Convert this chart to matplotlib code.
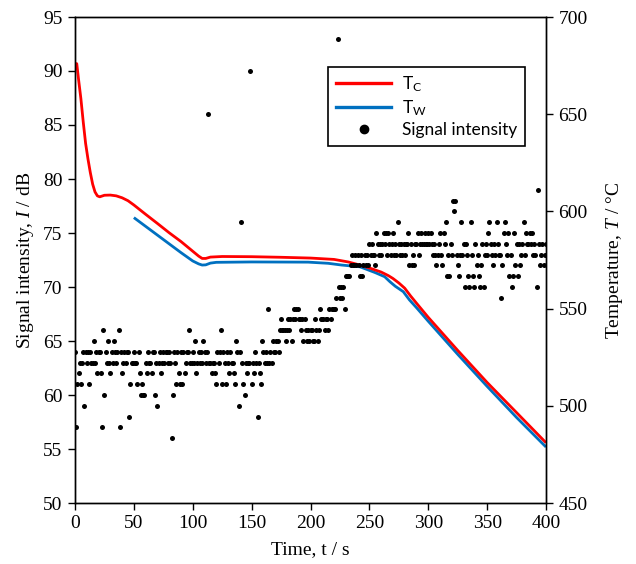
import numpy as np
import matplotlib
matplotlib.use("Agg")
import matplotlib.pyplot as plt
from matplotlib.lines import Line2D

plt.rcParams['font.family'] = 'Liberation Serif'
plt.rcParams['mathtext.fontset'] = 'custom'
plt.rcParams['mathtext.rm'] = 'Liberation Serif'
plt.rcParams['mathtext.it'] = 'Liberation Serif:italic'
plt.rcParams['mathtext.sf'] = 'Lato'

# --------------------------------------Data--------------------------------------
# Acoustic signal intensity (dB), one reading per second from 0 to 400 s
signal_db = [
    # 0-82 s
    64, 57, 61, 62, 63, 61, 63, 64, 59, 64,
    63, 64, 61, 64, 63, 63, 65, 63, 64, 62,
    64, 64, 62, 57, 66, 60, 64, 63, 65, 63,
    62, 64, 63, 65, 64, 63, 64, 66, 57, 64,
    62, 63, 64, 63, 64, 64, 58, 61, 63, 63,
    64, 63, 63, 61, 64, 62, 60, 61, 60, 60,
    63, 62, 64, 63, 63, 62, 64, 64, 60, 63,
    59, 63, 64, 62, 63, 64, 63, 64, 64, 63,
    64, 63, 56,
    # 83-164 s
    60, 64, 63, 61, 64, 62, 61, 64, 61, 64,
    62, 63, 64, 64, 66, 63, 63, 64, 63, 65,
    62, 63, 64, 63, 64, 63, 65, 64, 63, 64,
    86, 63, 63, 62, 63, 63, 62, 61, 64, 63,
    64, 66, 61, 64, 63, 61, 64, 63, 62, 64,
    63, 63, 62, 61, 65, 64, 59, 64, 76, 63,
    61, 60, 63, 62, 63, 63, 90, 61, 63, 62,
    64, 63, 58, 63, 62, 61, 65, 64, 63, 64,
    63, 68,
    # 165-235 s
    63, 64, 63, 65, 64, 64, 65, 65, 64, 66,
    67, 66, 66, 66, 65, 66, 67, 66, 67, 65,
    67, 68, 67, 68, 68, 67, 67, 66, 67, 65,
    67, 66, 65, 66, 65, 66, 66, 65, 65, 67,
    66, 65, 66, 68, 67, 67, 67, 66, 67, 67,
    66, 68, 67, 68, 68, 68, 68, 69, 93, 70,
    69, 70, 69, 70, 68, 71, 71, 71, 71, 72,
    73,
    # 236-323 s
    72, 72, 73, 72, 73, 72, 71, 73, 71, 72,
    73, 72, 73, 72, 74, 73, 74, 73, 73, 72,
    75, 74, 73, 74, 73, 74, 75, 74, 75, 73,
    75, 74, 73, 74, 75, 73, 74, 73, 76, 74,
    73, 74, 73, 74, 73, 74, 74, 75, 72, 74,
    72, 73, 72, 74, 74, 75, 73, 74, 75, 74,
    74, 75, 74, 74, 75, 74, 75, 74, 73, 74,
    73, 72, 73, 74, 75, 73, 72, 75, 74, 76,
    71, 73, 71, 74, 73, 78, 77, 78,
    # 324-400 s
    73, 72, 71, 73, 76, 73, 74, 70, 74, 73,
    71, 70, 76, 73, 71, 70, 74, 72, 73, 71,
    70, 72, 74, 70, 73, 74, 73, 75, 76, 74,
    73, 72, 74, 73, 76, 74, 73, 73, 69, 72,
    75, 76, 74, 73, 75, 71, 73, 70, 71, 75,
    72, 74, 71, 74, 72, 73, 74, 76, 73, 75,
    74, 74, 75, 74, 75, 73, 74, 73, 70, 79,
    74, 72, 73, 74, 72, 73, 74,
]
signal_t = np.arange(len(signal_db))

# Centre temperature T_C (degC)
tc_t = [0, 1.5, 3, 5, 7, 9, 11, 13, 15, 17, 19, 21, 25, 30, 35, 40, 45, 50,
        60, 70, 80, 90, 100, 105, 108, 111, 115, 125, 150, 175, 200, 220, 232,
        242, 252, 260, 266, 270, 275, 280, 285, 290, 300, 325, 350, 375, 400]
tc_T = [676, 676, 668, 658, 646, 635, 627, 620, 614, 610, 608, 607.5, 608.3,
        608.4, 608, 607, 605.5, 603.3, 598.5, 593.8, 589, 584.5, 579.5, 577,
        575.8, 575.8, 576.5, 576.8, 576.7, 576.4, 576, 575.3, 574, 572.4, 570.5,
        568.8, 567, 565.5, 563.2, 560.5, 556.5, 552.8, 545.5, 528.5, 512,
        496.5, 481]

# Wall temperature T_W (degC)
tw_t = [50, 60, 70, 80, 90, 100, 105, 108, 111, 115, 120, 150, 198, 215, 226.5,
        242, 255, 263, 267.5, 272, 278.8, 284, 290, 300, 325, 350, 375, 400]
tw_T = [596.8, 592.3, 587.8, 583.3, 578.8, 574.5, 573, 572.4, 572.5, 573.4,
        573.8, 574, 573.9, 573.3, 572.4, 571.5, 568.5, 566.4, 563.8, 561.5,
        558.7, 554.5, 550.5, 543.5, 526.5, 510, 494, 478.8]
# --------------------------------------Data--------------------------------------

fig = plt.figure(figsize=(6.36, 5.64), dpi=100)
ax = fig.add_axes([75 / 636, 1 - 503 / 564, 471 / 636, 486 / 564])
ax2 = ax.twinx()

# temperatures on the right axis, drawn underneath the signal points
ax2.plot(tw_t, tw_T, color='#0070C0', lw=2.0, solid_capstyle='butt')
ax2.plot(tc_t, tc_T, color='#FF0000', lw=2.0, solid_capstyle='butt')
ax.plot(signal_t, signal_db, 'o', color='black', ms=3.6, mew=0)

ax.set_zorder(ax2.get_zorder() + 1)
ax.patch.set_visible(False)

ax.set_xlim(0, 400)
ax.set_ylim(50, 95)
ax2.set_ylim(450, 700)
ax.set_xticks(np.arange(0, 401, 50))
ax.set_yticks(np.arange(50, 96, 5))
ax2.set_yticks(np.arange(450, 701, 50))

for a in (ax, ax2):
    for s in a.spines.values():
        s.set_linewidth(1.0)
        s.set_color('black')
ax.tick_params(axis='both', direction='out', length=5, width=1.0, labelsize=14, pad=4)
ax2.tick_params(axis='y', direction='out', length=5, width=1.0, labelsize=14, pad=4)

ax.set_xlabel('Time, t / s', fontsize=14, labelpad=6)
ax.set_ylabel(r'Signal intensity, $\it{I}$ / dB', fontsize=14, labelpad=5)
ax2.set_ylabel(r'Temperature, $\it{T}$ / °C', fontsize=14, labelpad=12)

handles = [
    Line2D([], [], color='#FF0000', lw=2.4),
    Line2D([], [], color='#0070C0', lw=2.4),
    Line2D([], [], marker='o', ls='none', color='black', ms=6),
]
labels = [r'T$_{\mathsf{C}}$', r'T$_{\mathsf{W}}$', 'Signal intensity']
leg = ax.legend(handles, labels, loc='upper left',
                bbox_to_anchor=(328 / 636, 1 - 66.7 / 564),
                bbox_transform=fig.transFigure,
                prop={'family': 'Lato', 'size': 12.5},
                frameon=True, fancybox=False, framealpha=1,
                edgecolor='black', handlelength=3.2, handletextpad=0.6,
                labelspacing=0.25, borderpad=0.45, borderaxespad=0)
leg.get_frame().set_linewidth(1.2)

fig.savefig('out.png', dpi=100)
